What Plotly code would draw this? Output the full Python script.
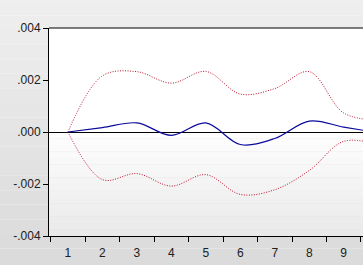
import plotly.graph_objects as go

periods = [1, 2, 3, 4, 5, 6, 7, 8, 9, 10]
response = [0.0, 0.00017, 0.00035, -0.00013, 0.00035, -0.00048, -0.00025, 0.00042, 0.00019, -0.00003]
upper = [0.0, 0.00216, 0.00232, 0.00188, 0.00233, 0.00146, 0.00167, 0.00232, 0.00073, 0.00045]
lower = [0.0, -0.00183, -0.00160, -0.00208, -0.00164, -0.00240, -0.00222, -0.00148, -0.00036, -0.00048]
x_tick_vals = [1, 2, 3, 4, 5, 6, 7, 8, 9]
x_tick_text = ["1", "2", "3", "4", "5", "6", "7", "8", "9"]
y_tick_vals = [0.004, 0.002, 0.0, -0.002, -0.004]
y_tick_text = [".004", ".002", ".000", "-.002", "-.004"]

fig = go.Figure()
fig.add_trace(go.Scatter(x=periods, y=upper, mode="lines",
                         line=dict(color="#b8102a", width=1, dash="1px,1.5px", shape="spline"),
                         showlegend=False))
fig.add_trace(go.Scatter(x=periods, y=lower, mode="lines",
                         line=dict(color="#b8102a", width=1, dash="1px,1.5px", shape="spline"),
                         showlegend=False))
fig.add_trace(go.Scatter(x=periods, y=response, mode="lines",
                         line=dict(color="#0a0a9c", width=1.2, shape="spline"),
                         showlegend=False))

shapes = []
# paper gradient
n = 20
for i in range(n):
    g = int(240 - 22 * i / (n - 1))
    shapes.append(dict(type="rect", xref="paper", yref="paper",
                       x0=-0.2, x1=1.2, y0=1.2 - (i + 1) * 1.4 / n, y1=1.2 - i * 1.4 / n,
                       fillcolor=f"rgb({g},{g},{g})", line=dict(width=0), layer="below"))
# plot area: white above zero, gradient below
shapes.append(dict(type="rect", xref="x domain", yref="y", x0=0, x1=1, y0=0, y1=0.004,
                   fillcolor="white", line=dict(width=0), layer="below"))
m = 16
for i in range(m):
    g = int(254 - 20 * i / (m - 1))
    shapes.append(dict(type="rect", xref="x domain", yref="y", x0=0, x1=1,
                       y0=-(i + 1) * 0.004 / m, y1=-i * 0.004 / m,
                       fillcolor=f"rgb({g},{g},{g})", line=dict(width=0), layer="below"))
# top border
shapes.append(dict(type="line", xref="x domain", yref="y domain", x0=0, x1=1, y0=1, y1=1,
                   line=dict(color="black", width=1)))

fig.update_layout(
    width=363, height=265,
    margin=dict(l=49, r=0, t=28, b=29),
    paper_bgcolor="rgba(0,0,0,0)",
    plot_bgcolor="rgba(0,0,0,0)",
    font=dict(family="Liberation Sans, Arial, sans-serif", size=12, color="#202020"),
    shapes=shapes,
    showlegend=False,
)
fig.update_xaxes(
    range=[0.45, 9.56], tickvals=x_tick_vals, ticktext=x_tick_text,
    ticks="", showgrid=False, zeroline=False,
    showline=True, linecolor="black", linewidth=1,
    ticklabelstandoff=6,
    minor=dict(ticks="outside", tick0=0.5, dtick=1, ticklen=5, tickcolor="black", showgrid=False),
)
fig.update_yaxes(
    range=[-0.004, 0.004], tickvals=y_tick_vals, ticktext=y_tick_text,
    ticks="outside", ticklen=5, tickcolor="black", showgrid=False,
    zeroline=True, zerolinecolor="black", zerolinewidth=1,
    showline=True, linecolor="black", linewidth=1,
)

fig.write_html("out.html")
